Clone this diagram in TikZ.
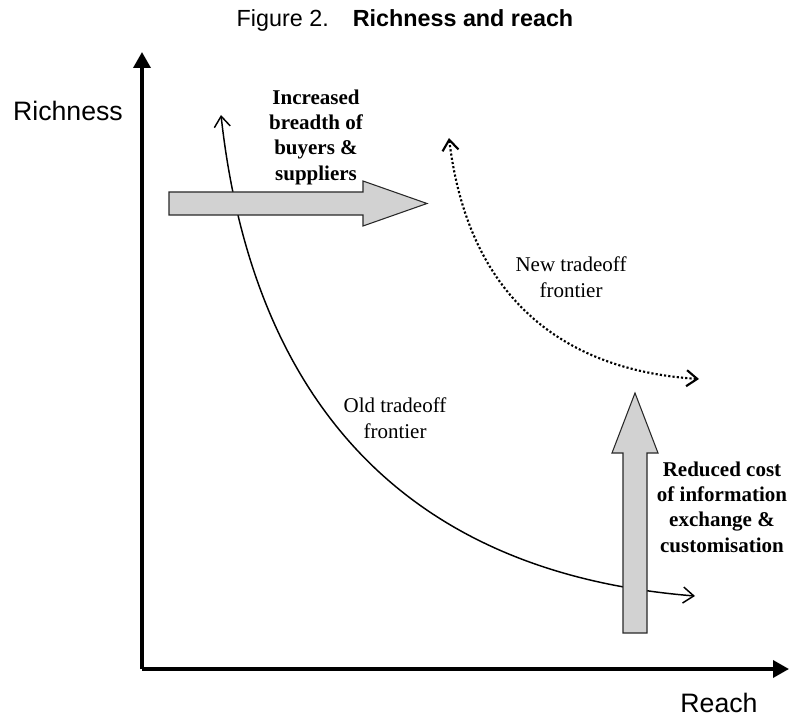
\documentclass[tikz,border=0pt]{standalone}
\usepackage{fontspec}
\setmainfont{Liberation Serif}
\newfontfamily\arialf{Liberation Sans}
\usetikzlibrary{arrows.meta}
\definecolor{arrowgray}{RGB}{210,210,210}
\definecolor{edgegray}{RGB}{40,40,40}
\tikzset{
  axisline/.style={line width=2.6pt,-{Triangle[width=12.75pt,length=12pt]}},
  oldcurve/.style={line width=1.1pt,{Straight Barb[width=12pt,length=8pt]}-{Straight Barb[width=12pt,length=8pt]}},
  newcurve/.style={line width=1.6pt,dash pattern=on 1.6pt off 1.6pt,{Straight Barb[width=12pt,length=8pt]}-{Straight Barb[width=12pt,length=8pt]}},
  grayarrow/.style={fill=arrowgray,draw=edgegray,line width=0.8pt,line join=miter},
  sanslbl/.style={font=\arialf\fontsize{20}{24}\selectfont,inner sep=0pt},
  boldlbl/.style={font=\bfseries\fontsize{15.75}{19}\selectfont,align=center,inner sep=0pt},
  plainlbl/.style={font=\fontsize{15.75}{19.5}\selectfont,align=center,inner sep=0pt}
}
\begin{document}
\begin{tikzpicture}[x=0.75pt,y=-0.75pt]
\useasboundingbox (0,0) rectangle (790,717);
% title
\node[font=\arialf\fontsize{17.5}{21}\selectfont,inner sep=0pt] (title) at (405,20) {Figure 2.\hspace{18pt}\textbf{Richness and reach}};
% axes
\coordinate (O) at (142,669);
\coordinate (ytip) at (142,52);
\coordinate (xtip) at (789,669);
\draw[axisline] (O) -- (ytip);
\draw[axisline] (O) -- (xtip);
\node[sanslbl] (richness) at (68,111) {Richness};
\node[sanslbl] (reach) at (719,703) {Reach};
% curves
\coordinate (oldA) at (221,115);
\coordinate (oldB) at (695,596);
\coordinate (newA) at (449,138);
\coordinate (newB) at (699,379);
\draw[oldcurve] (oldA) .. controls (248,360) and (370,570) .. (oldB);
\draw[newcurve] (newA) .. controls (468,295) and (560,370) .. (newB);
% gray arrows
\draw[grayarrow] (169,192) -- (363,192) -- (363,181) -- (427,203.5) -- (363,226) -- (363,215) -- (169,215) -- cycle;
\draw[grayarrow] (623,633) -- (623,453) -- (612,453) -- (635,393) -- (658,453) -- (647,453) -- (647,633) -- cycle;
% labels
\node[boldlbl] (incr) at (316,137) {Increased\\breadth of\\buyers \&\\suppliers};
\node[boldlbl] (reduced) at (722,507) {Reduced cost\\of information\\exchange \&\\customisation};
\node[plainlbl] (old) at (395,418) {Old tradeoff\\frontier};
\node[plainlbl] (new) at (571,277) {New tradeoff\\frontier};
\end{tikzpicture}
\end{document}
